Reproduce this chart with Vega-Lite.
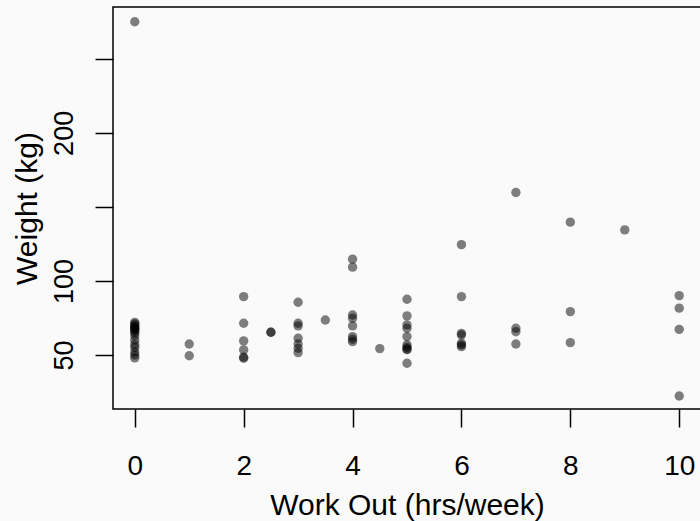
{
  "$schema": "https://vega.github.io/schema/vega-lite/v6.json",
  "width": 588,
  "height": 402,
  "autosize": {"type": "none"},
  "padding": {"left": 113, "top": 7, "right": 0, "bottom": 112},
  "background": "#fafafa",
  "config": {
    "view": {"stroke": "black", "strokeWidth": 1.5, "fill": "#fafafa"},
    "font": "Liberation Sans"
  },
  "data": {
    "values": [
      {"hours": 0, "weight": 275},
      {"hours": 0, "weight": 72},
      {"hours": 0, "weight": 71},
      {"hours": 0, "weight": 70},
      {"hours": 0, "weight": 69},
      {"hours": 0, "weight": 68},
      {"hours": 0, "weight": 68},
      {"hours": 0, "weight": 67},
      {"hours": 0, "weight": 66},
      {"hours": 0, "weight": 65},
      {"hours": 0, "weight": 63},
      {"hours": 0, "weight": 60},
      {"hours": 0, "weight": 57},
      {"hours": 0, "weight": 55},
      {"hours": 0, "weight": 52},
      {"hours": 0, "weight": 50},
      {"hours": 0, "weight": 48},
      {"hours": 1, "weight": 57.4},
      {"hours": 1, "weight": 49.5},
      {"hours": 2, "weight": 89.4},
      {"hours": 2, "weight": 71.4},
      {"hours": 2, "weight": 59.5},
      {"hours": 2, "weight": 53.4},
      {"hours": 2, "weight": 48.5},
      {"hours": 2, "weight": 47.8},
      {"hours": 2.5, "weight": 65.3},
      {"hours": 2.5, "weight": 65.3},
      {"hours": 3, "weight": 85.6},
      {"hours": 3, "weight": 71.4},
      {"hours": 3, "weight": 69.6},
      {"hours": 3, "weight": 61.3},
      {"hours": 3, "weight": 57.4},
      {"hours": 3, "weight": 54.5},
      {"hours": 3, "weight": 51.6},
      {"hours": 3.5, "weight": 73.6},
      {"hours": 4, "weight": 114.7},
      {"hours": 4, "weight": 109.3},
      {"hours": 4, "weight": 77},
      {"hours": 4, "weight": 74.8},
      {"hours": 4, "weight": 69.6},
      {"hours": 4, "weight": 62.4},
      {"hours": 4, "weight": 60.6},
      {"hours": 4, "weight": 59},
      {"hours": 4.5, "weight": 54.3},
      {"hours": 5, "weight": 87.6},
      {"hours": 5, "weight": 76.4},
      {"hours": 5, "weight": 70.3},
      {"hours": 5, "weight": 68},
      {"hours": 5, "weight": 62.4},
      {"hours": 5, "weight": 56.8},
      {"hours": 5, "weight": 55.2},
      {"hours": 5, "weight": 54},
      {"hours": 5, "weight": 53.6},
      {"hours": 5, "weight": 44.4},
      {"hours": 6, "weight": 124.5},
      {"hours": 6, "weight": 89.4},
      {"hours": 6, "weight": 64.6},
      {"hours": 6, "weight": 63.5},
      {"hours": 6, "weight": 57.9},
      {"hours": 6, "weight": 56.8},
      {"hours": 6, "weight": 55.6},
      {"hours": 7, "weight": 159.7},
      {"hours": 7, "weight": 68},
      {"hours": 7, "weight": 65.7},
      {"hours": 7, "weight": 57.4},
      {"hours": 8, "weight": 139.7},
      {"hours": 8, "weight": 79.3},
      {"hours": 8, "weight": 58.3},
      {"hours": 9, "weight": 134.5},
      {"hours": 10, "weight": 90.1},
      {"hours": 10, "weight": 81.6},
      {"hours": 10, "weight": 67.3},
      {"hours": 10, "weight": 22.3}
    ]
  },
  "mark": {"type": "circle", "color": "black", "opacity": 0.5, "size": 88, "stroke": null},
  "encoding": {
    "x": {
      "field": "hours",
      "type": "quantitative",
      "scale": {"domain": [-0.4, 10.4], "nice": false, "zero": false},
      "axis": {
        "title": "Work Out (hrs/week)",
        "values": [0, 2, 4, 6, 8, 10],
        "grid": false,
        "domain": false,
        "tickColor": "black",
        "tickSize": 18,
        "tickWidth": 1.5,
        "labelFontSize": 28,
        "labelColor": "black",
        "labelBaseline": "alphabetic",
        "labelPadding": 47,
        "labelFlush": false,
        "labelOverlap": false,
        "titleFontSize": 30,
        "titleFontWeight": "normal",
        "titleColor": "black",
        "titleBaseline": "alphabetic",
        "titleY": 105
      }
    },
    "y": {
      "field": "weight",
      "type": "quantitative",
      "scale": {"domain": [13.5, 285], "nice": false, "zero": false},
      "axis": {
        "title": "Weight (kg)",
        "values": [50, 100, 150, 200, 250],
        "labelExpr": "datum.value == 150 || datum.value == 250 ? '' : datum.label",
        "grid": false,
        "domain": false,
        "tickColor": "black",
        "tickSize": 18,
        "tickWidth": 1.5,
        "labelFontSize": 27,
        "labelColor": "black",
        "labelAngle": -90,
        "labelAlign": "center",
        "labelBaseline": "alphabetic",
        "labelPadding": 23,
        "labelFlush": false,
        "labelOverlap": false,
        "titleFontSize": 30,
        "titleFontWeight": "normal",
        "titleColor": "black",
        "titleAngle": -90,
        "titleBaseline": "alphabetic",
        "titleX": -77
      }
    }
  }
}
